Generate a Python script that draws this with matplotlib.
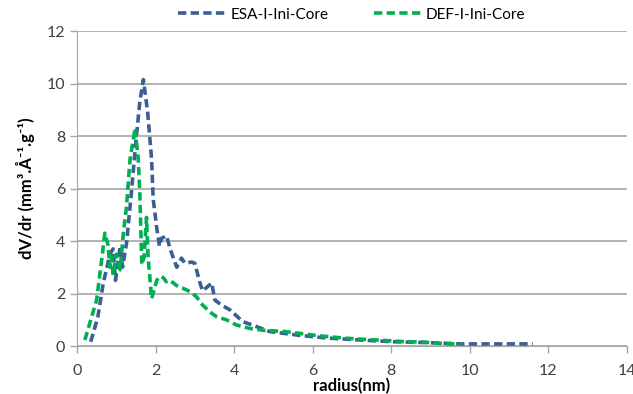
import matplotlib.pyplot as plt
import numpy as np

plt.rcParams["font.family"] = ["Lato", "DejaVu Sans"]

# pore size distribution
esa_r = [0.35, 0.53, 0.67, 0.84, 0.92, 0.98, 1.1, 1.16, 1.26, 1.37, 1.5, 1.6, 1.69,
         1.8, 1.9, 1.94, 2.03, 2.1, 2.15, 2.28, 2.37, 2.54, 2.66, 2.75, 2.92, 3.0,
         3.13, 3.2, 3.43, 3.51, 3.68, 3.9, 4.22, 4.57, 4.9, 5.7, 6.4, 7.3, 8.1,
         8.9, 9.8, 10.5, 11.6]
esa_v = [0.16, 1.1, 2.4, 3.5, 3.7, 2.5, 3.8, 3.0, 3.9, 5.6, 7.8, 9.3, 10.15,
         8.9, 7.1, 5.6, 4.5, 3.8, 4.1, 4.2, 3.7, 3.0, 3.35, 3.15, 3.2, 3.15,
         2.4, 2.1, 2.4, 1.75, 1.56, 1.37, 0.93, 0.74, 0.55, 0.4, 0.3, 0.22, 0.16,
         0.13, 0.08, 0.08, 0.08]

def_r = [0.2, 0.5, 0.63, 0.71, 0.79, 0.84, 0.88, 0.92, 1.0, 1.1, 1.18, 1.26, 1.35,
         1.48, 1.56, 1.6, 1.65, 1.71, 1.77, 1.81, 1.9, 2.03, 2.11, 2.2, 2.27, 2.37,
         2.54, 2.7, 2.88, 3.04, 3.2, 3.38, 3.55, 3.8, 4.06, 4.4, 4.74, 5.3, 6.1,
         6.8, 7.5, 8.3, 8.8, 9.3, 9.8]
def_v = [0.23, 1.75, 3.3, 4.3, 3.85, 3.0, 3.4, 2.7, 3.5, 2.9, 4.3, 5.3, 7.1,
         8.3, 7.1, 5.8, 3.1, 3.4, 4.9, 3.4, 1.8, 2.5, 2.65, 2.6, 2.45, 2.5,
         2.3, 2.2, 2.07, 1.88, 1.56, 1.3, 1.12, 1.0, 0.8, 0.67, 0.6, 0.55, 0.4,
         0.3, 0.24, 0.17, 0.15, 0.1, 0.06]

blue = "#3B5F95"
green = "#00B050"

fig = plt.figure(figsize=(6.33, 3.94), dpi=100)
ax = fig.add_axes([0.1216, 0.1218, 0.8689, 0.7995])

ax.plot(esa_r, esa_v, color=blue, lw=2.6, dashes=(2.3, 1.2), label="ESA-I-Ini-Core")
ax.plot(def_r, def_v, color=green, lw=2.6, dashes=(2.3, 1.2), label="DEF-I-Ini-Core")

ax.set_xlim(0, 14)
ax.set_ylim(0, 12)
ax.set_xticks(np.arange(0, 15, 2))
ax.set_yticks(np.arange(0, 13, 2))
ax.yaxis.grid(True, color="#A6A6A6", lw=1.2)
ax.set_axisbelow(True)

for side in ["top", "right"]:
    ax.spines[side].set_visible(False)
ax.spines["left"].set_color("#A6A6A6")
ax.spines["bottom"].set_color("#A6A6A6")
ax.tick_params(axis="both", colors="#A6A6A6", labelcolor="#404040",
               labelsize=11.5, length=5, width=1)
ax.tick_params(axis="x", pad=8)

ax.set_xlabel("radius(nm)", fontsize=12, fontweight="bold", labelpad=0)
ax.set_ylabel("dV/dr (mm³.Å⁻¹.g⁻¹)", fontsize=12, fontweight="bold", labelpad=8)

ax.legend(loc="lower center", bbox_to_anchor=(0.5, 1.0), ncol=2, frameon=False,
          fontsize=11, handlelength=3.2, columnspacing=3, borderaxespad=0.2,
          handletextpad=0.2)

fig.savefig("out.png", dpi=100)
